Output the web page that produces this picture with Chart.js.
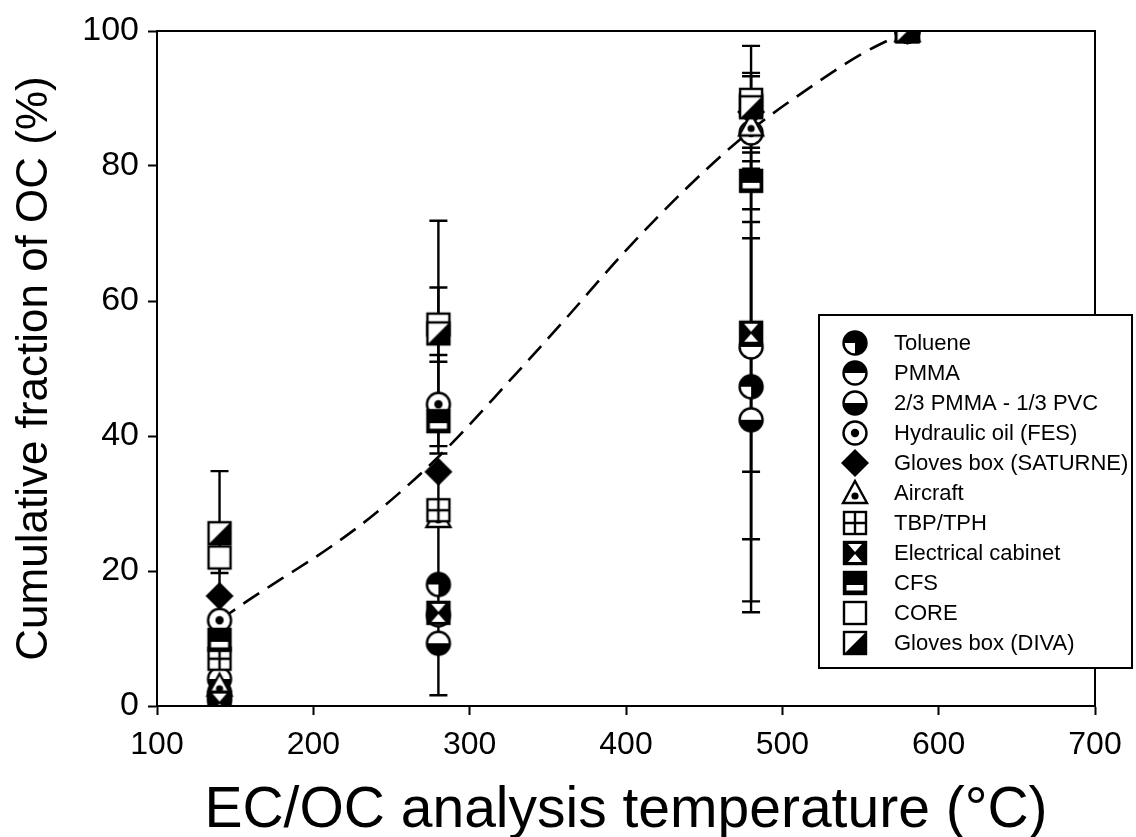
<!DOCTYPE html>
<html lang="en">
<head>
  <meta charset="UTF-8">
  <title>Cumulative fraction of OC</title>
  <script src="https://cdn.jsdelivr.net/npm/chart.js"></script>
  <style>
    body { margin: 0; background: white; }
    #wrap { width: 1136px; height: 837px; }
  </style>
</head>
<body>
  <div id="wrap"><canvas id="ocChart" width="1136" height="837"></canvas></div>

  <script>
    // temperatures (x) shared by every series
    const temps = [140, 280, 480, 580];

    const names = ['Toluene', 'PMMA', '2/3 PMMA - 1/3 PVC', 'Hydraulic oil (FES)', 'Gloves box (SATURNE)',
      'Aircraft', 'TBP/TPH', 'Electrical cabinet', 'CFS', 'CORE', 'Gloves box (DIVA)'];

    // cumulative fraction of OC (%)
    const toluene   = [2.0, 18.0, 47.3, 100];
    const pmma      = [1.0, 13.5, 53.2, 100];
    const pmmaPvc   = [4.0, 9.3, 42.4, 100];
    const hydraulic = [12.7, 44.7, 84.9, 100];
    const saturne   = [16.3, 34.7, 88.0, 100];
    const aircraft  = [3.0, 28.0, 86.0, 100];
    const tbp       = [7.0, 29.0, 89.0, 100];
    const cabinet   = [0.5, 13.8, 55.3, 100];
    const cfs       = [9.8, 42.2, 77.8, 100];
    const core      = [22.0, 56.5, 89.8, 100];
    const diva      = [25.6, 55.2, 88.7, 100];

    // +/- error (0 = no bar)
    const tolueneErr   = [0, 16.4, 33.4, 0];
    const pmmaErr      = [0, 0, 18.5, 0];
    const pmmaPvcErr   = [0, 0, 26.9, 0];
    const hydraulicErr = [0, 7.3, 0, 0];
    const saturneErr   = [0, 0, 5.3, 0];
    const aircraftErr  = [0, 0, 0, 0];
    const tbpErr       = [0, 0, 0, 0];
    const cabinetErr   = [0, 0, 30.6, 0];
    const cfsErr       = [0, 0, 4.2, 0];
    const coreErr      = [2.3, 5.5, 4.0, 0];
    const divaErr      = [9.2, 16.7, 9.1, 0];

    // dashed fitted curve
    const fitX = [140, 160, 180, 210, 240, 283, 326, 360, 400, 440, 480, 520, 550, 580];
    const fitY = [12.7, 15.9, 18.9, 23.4, 28.6, 37.6, 48.3, 57.0, 67.5, 77.0, 85.3, 92.0, 96.5, 100];

    const values = [toluene, pmma, pmmaPvc, hydraulic, saturne, aircraft, tbp, cabinet, cfs, core, diva];
    const errors = [tolueneErr, pmmaErr, pmmaPvcErr, hydraulicErr, saturneErr, aircraftErr, tbpErr, cabinetErr, cfsErr, coreErr, divaErr];
    const kinds = ['quarter', 'topHalf', 'bottomHalf', 'dotCircle', 'diamond', 'triangle', 'grid', 'hourglass', 'band', 'square', 'diag'];

    const FONT = 'Arial, "Liberation Sans", sans-serif';

    // draw one marker symbol on a small canvas
    function makeMarker(kind) {
      const S = 32, c = S / 2;
      const cv = document.createElement('canvas');
      cv.width = S; cv.height = S;
      const g = cv.getContext('2d');
      g.translate(c, c);
      g.lineWidth = 2.4;
      g.strokeStyle = '#000';
      g.fillStyle = '#000';
      const r = 11.5, h = 11;

      function circle() { g.beginPath(); g.arc(0, 0, r, 0, Math.PI * 2); }

      if (kind === 'quarter' || kind === 'topHalf' || kind === 'bottomHalf' || kind === 'dotCircle') {
        g.fillStyle = '#fff'; circle(); g.fill();
        g.fillStyle = '#000';
        if (kind === 'quarter') {
          g.beginPath(); g.moveTo(0, 0); g.arc(0, 0, r, Math.PI, Math.PI * 1.5); g.closePath(); g.fill();
          g.beginPath(); g.moveTo(0, 0); g.arc(0, 0, r, 0, Math.PI * 0.5); g.closePath(); g.fill();
          g.beginPath(); g.moveTo(0, 0); g.arc(0, 0, r, Math.PI * 1.5, Math.PI * 2); g.closePath(); g.fill();
        } else if (kind === 'topHalf') {
          g.beginPath(); g.arc(0, 0, r, Math.PI, Math.PI * 2); g.closePath(); g.fill();
        } else if (kind === 'bottomHalf') {
          g.beginPath(); g.arc(0, 0, r, 0, Math.PI); g.closePath(); g.fill();
        } else {
          g.beginPath(); g.arc(0, 0, 4.2, 0, Math.PI * 2); g.fill();
        }
        circle(); g.stroke();
      } else if (kind === 'diamond') {
        g.beginPath(); g.moveTo(0, -14); g.lineTo(14, 0); g.lineTo(0, 14); g.lineTo(-14, 0); g.closePath(); g.fill();
      } else if (kind === 'triangle') {
        g.fillStyle = '#fff';
        g.beginPath(); g.moveTo(0, -12); g.lineTo(12, 10); g.lineTo(-12, 10); g.closePath(); g.fill(); g.stroke();
        g.fillStyle = '#000';
        g.beginPath(); g.arc(0, 3, 3.6, 0, Math.PI * 2); g.fill();
      } else {
        g.fillStyle = '#fff'; g.fillRect(-h, -h, 2 * h, 2 * h);
        g.fillStyle = '#000';
        if (kind === 'grid') {
          g.beginPath(); g.moveTo(0, -h); g.lineTo(0, h); g.moveTo(-h, 0); g.lineTo(h, 0); g.stroke();
        } else if (kind === 'hourglass') {
          g.fillRect(-h, -h, 2 * h, 2 * h);
          g.fillStyle = '#fff';
          g.beginPath(); g.moveTo(-7, -h + 2); g.lineTo(7, -h + 2); g.lineTo(0, -1); g.closePath(); g.fill();
          g.beginPath(); g.moveTo(-7, h - 2); g.lineTo(7, h - 2); g.lineTo(0, 1); g.closePath(); g.fill();
        } else if (kind === 'band') {
          g.fillRect(-h, -h, 2 * h, 2 * h);
          g.fillStyle = '#fff'; g.fillRect(-h + 2.5, 2, 2 * h - 5, 5.5);
        } else if (kind === 'diag') {
          g.beginPath(); g.moveTo(h, -h); g.lineTo(h, h); g.lineTo(-h, h); g.closePath(); g.fill();
        }
        g.strokeRect(-h, -h, 2 * h, 2 * h);
      }
      return cv;
    }

    const markers = kinds.map(makeMarker);

    const datasets = names.map((name, i) => ({
      label: name,
      data: temps.map((t, j) => ({ x: t, y: values[i][j] })),
      errs: errors[i],
      showLine: false,
      pointStyle: markers[i],
      pointRadius: 12,
      pointHoverRadius: 12,
      order: 10 - i
    }));

    datasets.push({
      label: 'fit',
      data: fitX.map((x, j) => ({ x: x, y: fitY[j] })),
      showLine: true,
      borderColor: '#000',
      borderWidth: 2.6,
      borderDash: [19, 10],
      pointRadius: 0,
      cubicInterpolationMode: 'monotone',
      order: 20
    });

    // error bars under the markers
    const errorBars = {
      id: 'errorBars',
      beforeDatasetsDraw(chart) {
        const { ctx, scales: { x, y } } = chart;
        ctx.save();
        ctx.strokeStyle = '#000';
        ctx.lineWidth = 2.4;
        chart.data.datasets.forEach(ds => {
          if (!ds.errs) return;
          ds.data.forEach((p, j) => {
            const e = ds.errs[j];
            if (!e) return;
            const px = x.getPixelForValue(p.x);
            const top = y.getPixelForValue(p.y + e);
            const bot = y.getPixelForValue(p.y - e);
            ctx.beginPath();
            ctx.moveTo(px, top); ctx.lineTo(px, bot);
            ctx.moveTo(px - 9, top); ctx.lineTo(px + 9, top);
            ctx.moveTo(px - 9, bot); ctx.lineTo(px + 9, bot);
            ctx.stroke();
          });
        });
        ctx.restore();
      }
    };

    // frame around the plot and the boxed legend
    const frameAndLegend = {
      id: 'frameAndLegend',
      afterDraw(chart) {
        const { ctx, chartArea: a } = chart;
        ctx.save();
        ctx.strokeStyle = '#000';
        ctx.lineWidth = 2;
        ctx.strokeRect(a.left, a.top, a.right - a.left, a.bottom - a.top);

        const bx = 819, by = 315, bw = 313, bh = 353;
        ctx.fillStyle = '#fff';
        ctx.fillRect(bx, by, bw, bh);
        ctx.lineWidth = 2;
        ctx.strokeRect(bx, by, bw, bh);
        ctx.font = '22px ' + FONT;
        ctx.textBaseline = 'middle';
        names.forEach((n, i) => {
          const cy = by + 28 + i * 30;
          const m = markers[i];
          ctx.drawImage(m, 855 - m.width / 2, cy - m.height / 2);
          ctx.fillStyle = '#000';
          ctx.fillText(n, 894, cy + 1);
        });
        ctx.restore();
      }
    };

    new Chart(document.getElementById('ocChart'), {
      type: 'scatter',
      data: { datasets: datasets },
      plugins: [errorBars, frameAndLegend],
      options: {
        responsive: false,
        animation: false,
        layout: { padding: { top: 31, right: 41, left: 0, bottom: 0 } },
        plugins: { legend: { display: false }, tooltip: { enabled: false } },
        scales: {
          x: {
            type: 'linear',
            min: 100, max: 700,
            afterFit(scale) { scale.height = 131; },
            ticks: { stepSize: 100, color: '#000', font: { size: 32, family: FONT }, padding: 11 },
            grid: { drawOnChartArea: false, color: '#000', tickLength: 9, tickWidth: 2 },
            border: { color: '#000', width: 2 },
            title: { display: true, text: 'EC/OC analysis temperature (°C)', color: '#000',
                     font: { size: 57, family: FONT, lineHeight: 0.9 }, padding: { top: 0, bottom: 0 } }
          },
          y: {
            min: 0, max: 100,
            afterFit(scale) { scale.width = 157; },
            ticks: { stepSize: 20, color: '#000', font: { size: 34, family: FONT }, padding: 9 },
            grid: { drawOnChartArea: false, color: '#000', tickLength: 9, tickWidth: 2 },
            border: { color: '#000', width: 2 },
            title: { display: true, text: 'Cumulative fraction of OC (%)', color: '#000',
                     font: { size: 44, family: FONT }, padding: { top: 8, bottom: 0 } }
          }
        }
      }
    });
  </script>
</body>
</html>
